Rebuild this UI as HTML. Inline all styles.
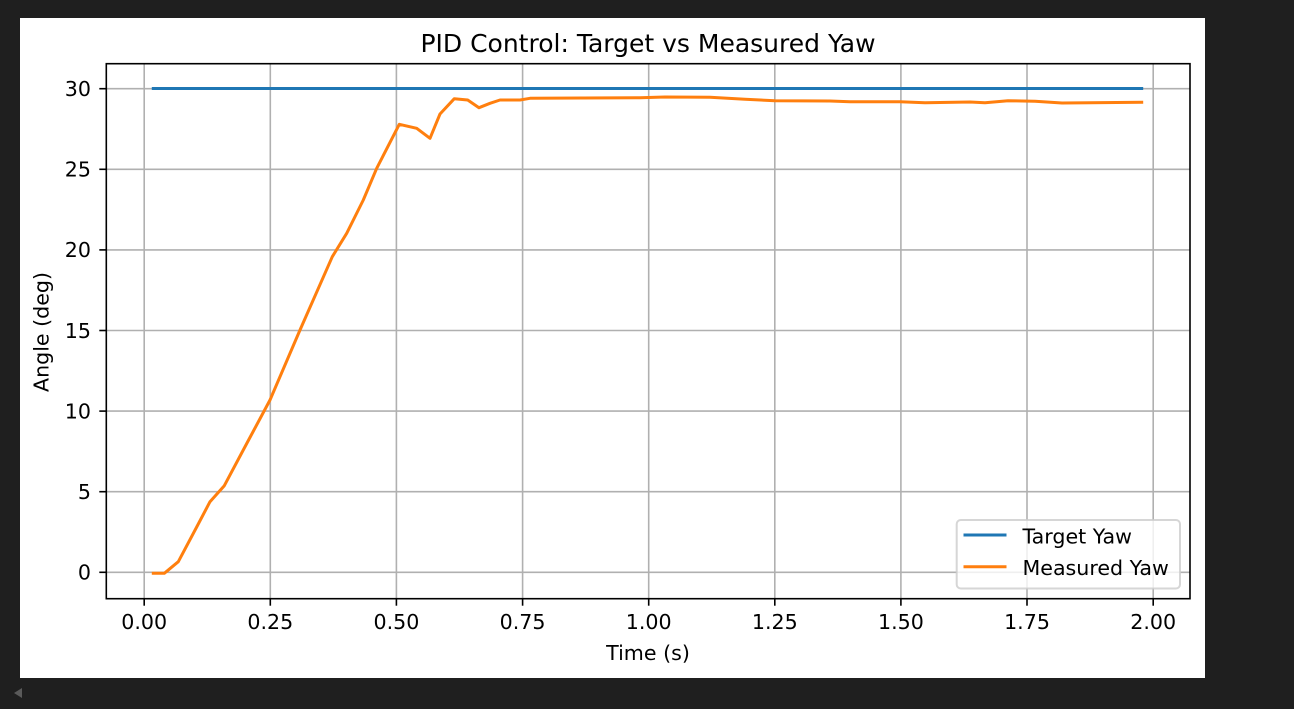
<!DOCTYPE html>
<html>
<head>
<meta charset="utf-8">
<style>
  html, body { margin:0; padding:0; background:#1f1f1f; }
  body { width:1294px; height:709px; overflow:hidden; }
  svg { display:block; }
  text { font-family: "DejaVu Sans", "Liberation Sans", sans-serif; fill:#000; }
</style>
</head>
<body>
<svg width="1294" height="709" viewBox="0 0 1294 709" xmlns="http://www.w3.org/2000/svg">
  <rect x="0" y="0" width="1294" height="709" fill="#1f1f1f"/>
  <rect x="20" y="18" width="1185" height="660" fill="#ffffff"/>
  <polygon points="14,693 22,688 22,698" fill="#5a5a5a"/>

  <!-- grid -->
  <g stroke="#b0b0b0" stroke-width="1.6">
    <line x1="144.2" y1="63.7" x2="144.2" y2="598.7"/>
    <line x1="270.3" y1="63.7" x2="270.3" y2="598.7"/>
    <line x1="396.4" y1="63.7" x2="396.4" y2="598.7"/>
    <line x1="522.6" y1="63.7" x2="522.6" y2="598.7"/>
    <line x1="648.7" y1="63.7" x2="648.7" y2="598.7"/>
    <line x1="774.8" y1="63.7" x2="774.8" y2="598.7"/>
    <line x1="900.9" y1="63.7" x2="900.9" y2="598.7"/>
    <line x1="1027" y1="63.7" x2="1027" y2="598.7"/>
    <line x1="1153.2" y1="63.7" x2="1153.2" y2="598.7"/>
    <line x1="106.3" y1="572.3" x2="1190" y2="572.3"/>
    <line x1="106.3" y1="491.7" x2="1190" y2="491.7"/>
    <line x1="106.3" y1="411.1" x2="1190" y2="411.1"/>
    <line x1="106.3" y1="330.5" x2="1190" y2="330.5"/>
    <line x1="106.3" y1="249.9" x2="1190" y2="249.9"/>
    <line x1="106.3" y1="169.3" x2="1190" y2="169.3"/>
    <line x1="106.3" y1="88.7" x2="1190" y2="88.7"/>
  </g>

  <!-- series -->
  <line x1="153.3" y1="88.5" x2="1141.7" y2="88.5" stroke="#1f77b4" stroke-width="3" stroke-linecap="square"/>
  <polyline fill="none" stroke="#ff7f0e" stroke-width="3" stroke-linejoin="round" stroke-linecap="square"
    points="153.3,573.3 164.3,573.3 178.3,561.7 196.7,527 210,501.7 224.3,485.7 247,443 270,400 300,330 332.3,256.7 346.7,233.3 363.3,200 376.7,168.3 399.3,124.3 416.7,128.3 430,138.3 440,114 454.3,98.7 467.7,100 479,107.7 490,103.3 500,100 520,100 530,98.3 640,97.7 665,97 710,97.3 745,99.3 775,100.7 830,101 850,101.7 900,101.7 925,102.7 970,102 985,102.7 1008,100.7 1035,101.3 1062,103 1090,102.7 1141.7,102.3"/>

  <!-- spines -->
  <rect x="106.3" y="63.7" width="1083.7" height="535" fill="none" stroke="#000" stroke-width="1.6"/>

  <!-- ticks -->
  <g stroke="#000" stroke-width="1.6">
    <line x1="144.2" y1="598.7" x2="144.2" y2="605.7"/>
    <line x1="270.3" y1="598.7" x2="270.3" y2="605.7"/>
    <line x1="396.4" y1="598.7" x2="396.4" y2="605.7"/>
    <line x1="522.6" y1="598.7" x2="522.6" y2="605.7"/>
    <line x1="648.7" y1="598.7" x2="648.7" y2="605.7"/>
    <line x1="774.8" y1="598.7" x2="774.8" y2="605.7"/>
    <line x1="900.9" y1="598.7" x2="900.9" y2="605.7"/>
    <line x1="1027" y1="598.7" x2="1027" y2="605.7"/>
    <line x1="1153.2" y1="598.7" x2="1153.2" y2="605.7"/>
    <line x1="99.3" y1="572.3" x2="106.3" y2="572.3"/>
    <line x1="99.3" y1="491.7" x2="106.3" y2="491.7"/>
    <line x1="99.3" y1="411.1" x2="106.3" y2="411.1"/>
    <line x1="99.3" y1="330.5" x2="106.3" y2="330.5"/>
    <line x1="99.3" y1="249.9" x2="106.3" y2="249.9"/>
    <line x1="99.3" y1="169.3" x2="106.3" y2="169.3"/>
    <line x1="99.3" y1="88.7" x2="106.3" y2="88.7"/>
  </g>

  <!-- x tick labels -->
  <g font-size="20.6" text-anchor="middle">
    <text x="144.2" y="629">0.00</text>
    <text x="270.3" y="629">0.25</text>
    <text x="396.4" y="629">0.50</text>
    <text x="522.6" y="629">0.75</text>
    <text x="648.7" y="629">1.00</text>
    <text x="774.8" y="629">1.25</text>
    <text x="900.9" y="629">1.50</text>
    <text x="1027" y="629">1.75</text>
    <text x="1153.2" y="629">2.00</text>
  </g>

  <!-- y tick labels -->
  <g font-size="20.6" text-anchor="end">
    <text x="91" y="579.6">0</text>
    <text x="91" y="499">5</text>
    <text x="91" y="418.4">10</text>
    <text x="91" y="337.8">15</text>
    <text x="91" y="257.2">20</text>
    <text x="91" y="176.6">25</text>
    <text x="91" y="96">30</text>
  </g>

  <!-- axis labels and title -->
  <text x="648" y="660" font-size="20.6" text-anchor="middle">Time (s)</text>
  <text transform="translate(48.5,332) rotate(-90)" font-size="20.6" text-anchor="middle">Angle (deg)</text>
  <text x="648" y="52" font-size="25" text-anchor="middle">PID Control: Target vs Measured Yaw</text>

  <!-- legend -->
  <rect x="956.7" y="520" width="223.3" height="68.5" rx="4" ry="4" fill="#ffffff" fill-opacity="0.8" stroke="#cccccc" stroke-opacity="0.8" stroke-width="2"/>
  <line x1="965" y1="535" x2="1005" y2="535" stroke="#1f77b4" stroke-width="3" stroke-linecap="square"/>
  <line x1="965" y1="566.7" x2="1005" y2="566.7" stroke="#ff7f0e" stroke-width="3" stroke-linecap="square"/>
  <text x="1022.5" y="543.5" font-size="20.6">Target Yaw</text>
  <text x="1022.5" y="574.8" font-size="20.6">Measured Yaw</text>
</svg>
</body>
</html>
